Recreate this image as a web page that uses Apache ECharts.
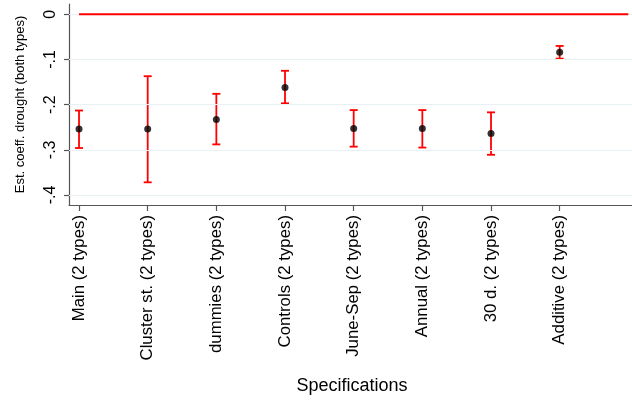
<!DOCTYPE html>
<html>
<head>
<meta charset="utf-8">
<script src="https://cdn.jsdelivr.net/npm/echarts@6/dist/echarts.min.js"></script>
<style>
  html, body { margin: 0; padding: 0; background: #fff; overflow: hidden; }
  #chart { width: 640px; height: 405px; }
</style>
</head>
<body>
<div id="chart"></div>
<script>
// Specifications and their point estimates with confidence bounds
const categories = [
  'Main (2 types)', 'Cluster st. (2 types)', 'dummies (2 types)', 'Controls (2 types)',
  'June-Sep (2 types)', 'Annual (2 types)', '30 d. (2 types)', 'Additive (2 types)'
];
const positions = [1, 2, 3, 4, 5, 6, 7, 8];
const estimates = [-0.254, -0.254, -0.233, -0.162, -0.253, -0.253, -0.264, -0.084];
const ciLow     = [-0.296, -0.372, -0.288, -0.197, -0.293, -0.295, -0.311, -0.098];
const ciHigh    = [-0.213, -0.137, -0.176, -0.125, -0.212, -0.212, -0.217, -0.070];

// Reference line at zero
const zeroLineX = [1, 9];
const zeroLineY = [0, 0];

// Y-axis ticks and labels
const yTicks = [0, -0.1, -0.2, -0.3, -0.4];
const yTickLabels = ['0', '-.1', '-.2', '-.3', '-.4'];

const FONT = '"Liberation Sans", Arial, sans-serif';
const RED = '#ff0000';

const chart = echarts.init(document.getElementById('chart'), null, { renderer: 'canvas' });

const ciData = positions.map((p, i) => [p, ciLow[i], ciHigh[i]]);
const pointData = positions.map((p, i) => [p, estimates[i]]);
const zeroData = zeroLineX.map((x, i) => [x, zeroLineY[i]]);

chart.setOption({
  animation: false,
  // the plot region runs slightly past the visible window on the right
  grid: { show: false, borderWidth: 0, left: 69, right: 5, top: 4, bottom: 200, containLabel: false },
  xAxis: {
    type: 'value',
    min: 0.854,
    max: 9.097,
    name: 'Specifications',
    nameLocation: 'middle',
    nameGap: 172,
    nameTextStyle: { fontFamily: FONT, fontSize: 18, color: '#000' },
    axisLine: { onZero: false, lineStyle: { color: '#555', width: 1.2 } },
    axisTick: { customValues: positions, length: 6, lineStyle: { color: '#555', width: 1.2 } },
    axisLabel: {
      customValues: positions,
      rotate: 90,
      margin: 10,
      fontFamily: FONT,
      fontSize: 16.8,
      color: '#000',
      formatter: v => categories[Math.round(v) - 1] || ''
    },
    splitLine: { show: false },
    splitArea: { show: false }
  },
  yAxis: {
    type: 'value',
    min: -0.4222,
    max: 0.0229,
    name: 'Est. coeff. drought (both types)',
    nameLocation: 'middle',
    nameGap: 42,
    nameRotate: 90,
    nameTextStyle: { fontFamily: FONT, fontSize: 13, color: '#000' },
    axisLine: { show: true, onZero: false, lineStyle: { color: '#555', width: 1.2 } },
    axisTick: { show: true, customValues: yTicks, length: 5, lineStyle: { color: '#555', width: 1.2 } },
    axisLabel: {
      customValues: yTicks,
      rotate: 90,
      margin: 10,
      fontFamily: FONT,
      fontSize: 16,
      color: '#000',
      formatter: v => {
        const i = yTicks.findIndex(t => Math.abs(t - v) < 1e-9);
        return i >= 0 ? yTickLabels[i] : '';
      }
    },
    splitLine: { show: false },
    splitArea: { show: false }
  },
  series: [
    {
      // horizontal grid lines at the labelled ticks
      type: 'line',
      data: [],
      silent: true,
      z: 1,
      markLine: {
        silent: true,
        symbol: 'none',
        label: { show: false },
        lineStyle: { color: '#e8f0f3', width: 1, type: 'solid' },
        data: yTicks.map(t => ({ yAxis: t }))
      }
    },
    {
      // zero reference line
      type: 'line',
      data: zeroData,
      color: RED,
      symbol: 'none',
      showSymbol: false,
      silent: true,
      clip: true,
      z: 5,
      itemStyle: { color: RED },
      lineStyle: { color: RED, width: 2, opacity: 1 }
    },
    {
      type: 'custom',
      z: 3,
      data: ciData,
      renderItem: (params, api) => {
        const x = api.value(0);
        const lo = api.coord([x, api.value(1)]);
        const hi = api.coord([x, api.value(2)]);
        const w = 4;
        const style = { stroke: RED, lineWidth: 1.8 };
        return {
          type: 'group',
          children: [
            { type: 'line', shape: { x1: lo[0], y1: lo[1], x2: hi[0], y2: hi[1] }, style },
            { type: 'line', shape: { x1: lo[0] - w, y1: lo[1], x2: lo[0] + w, y2: lo[1] }, style },
            { type: 'line', shape: { x1: hi[0] - w, y1: hi[1], x2: hi[0] + w, y2: hi[1] }, style }
          ]
        };
      }
    },
    {
      type: 'scatter',
      z: 4,
      data: pointData,
      symbol: 'circle',
      symbolSize: 7,
      itemStyle: { color: '#000' }
    }
  ]
});
</script>
</body>
</html>
